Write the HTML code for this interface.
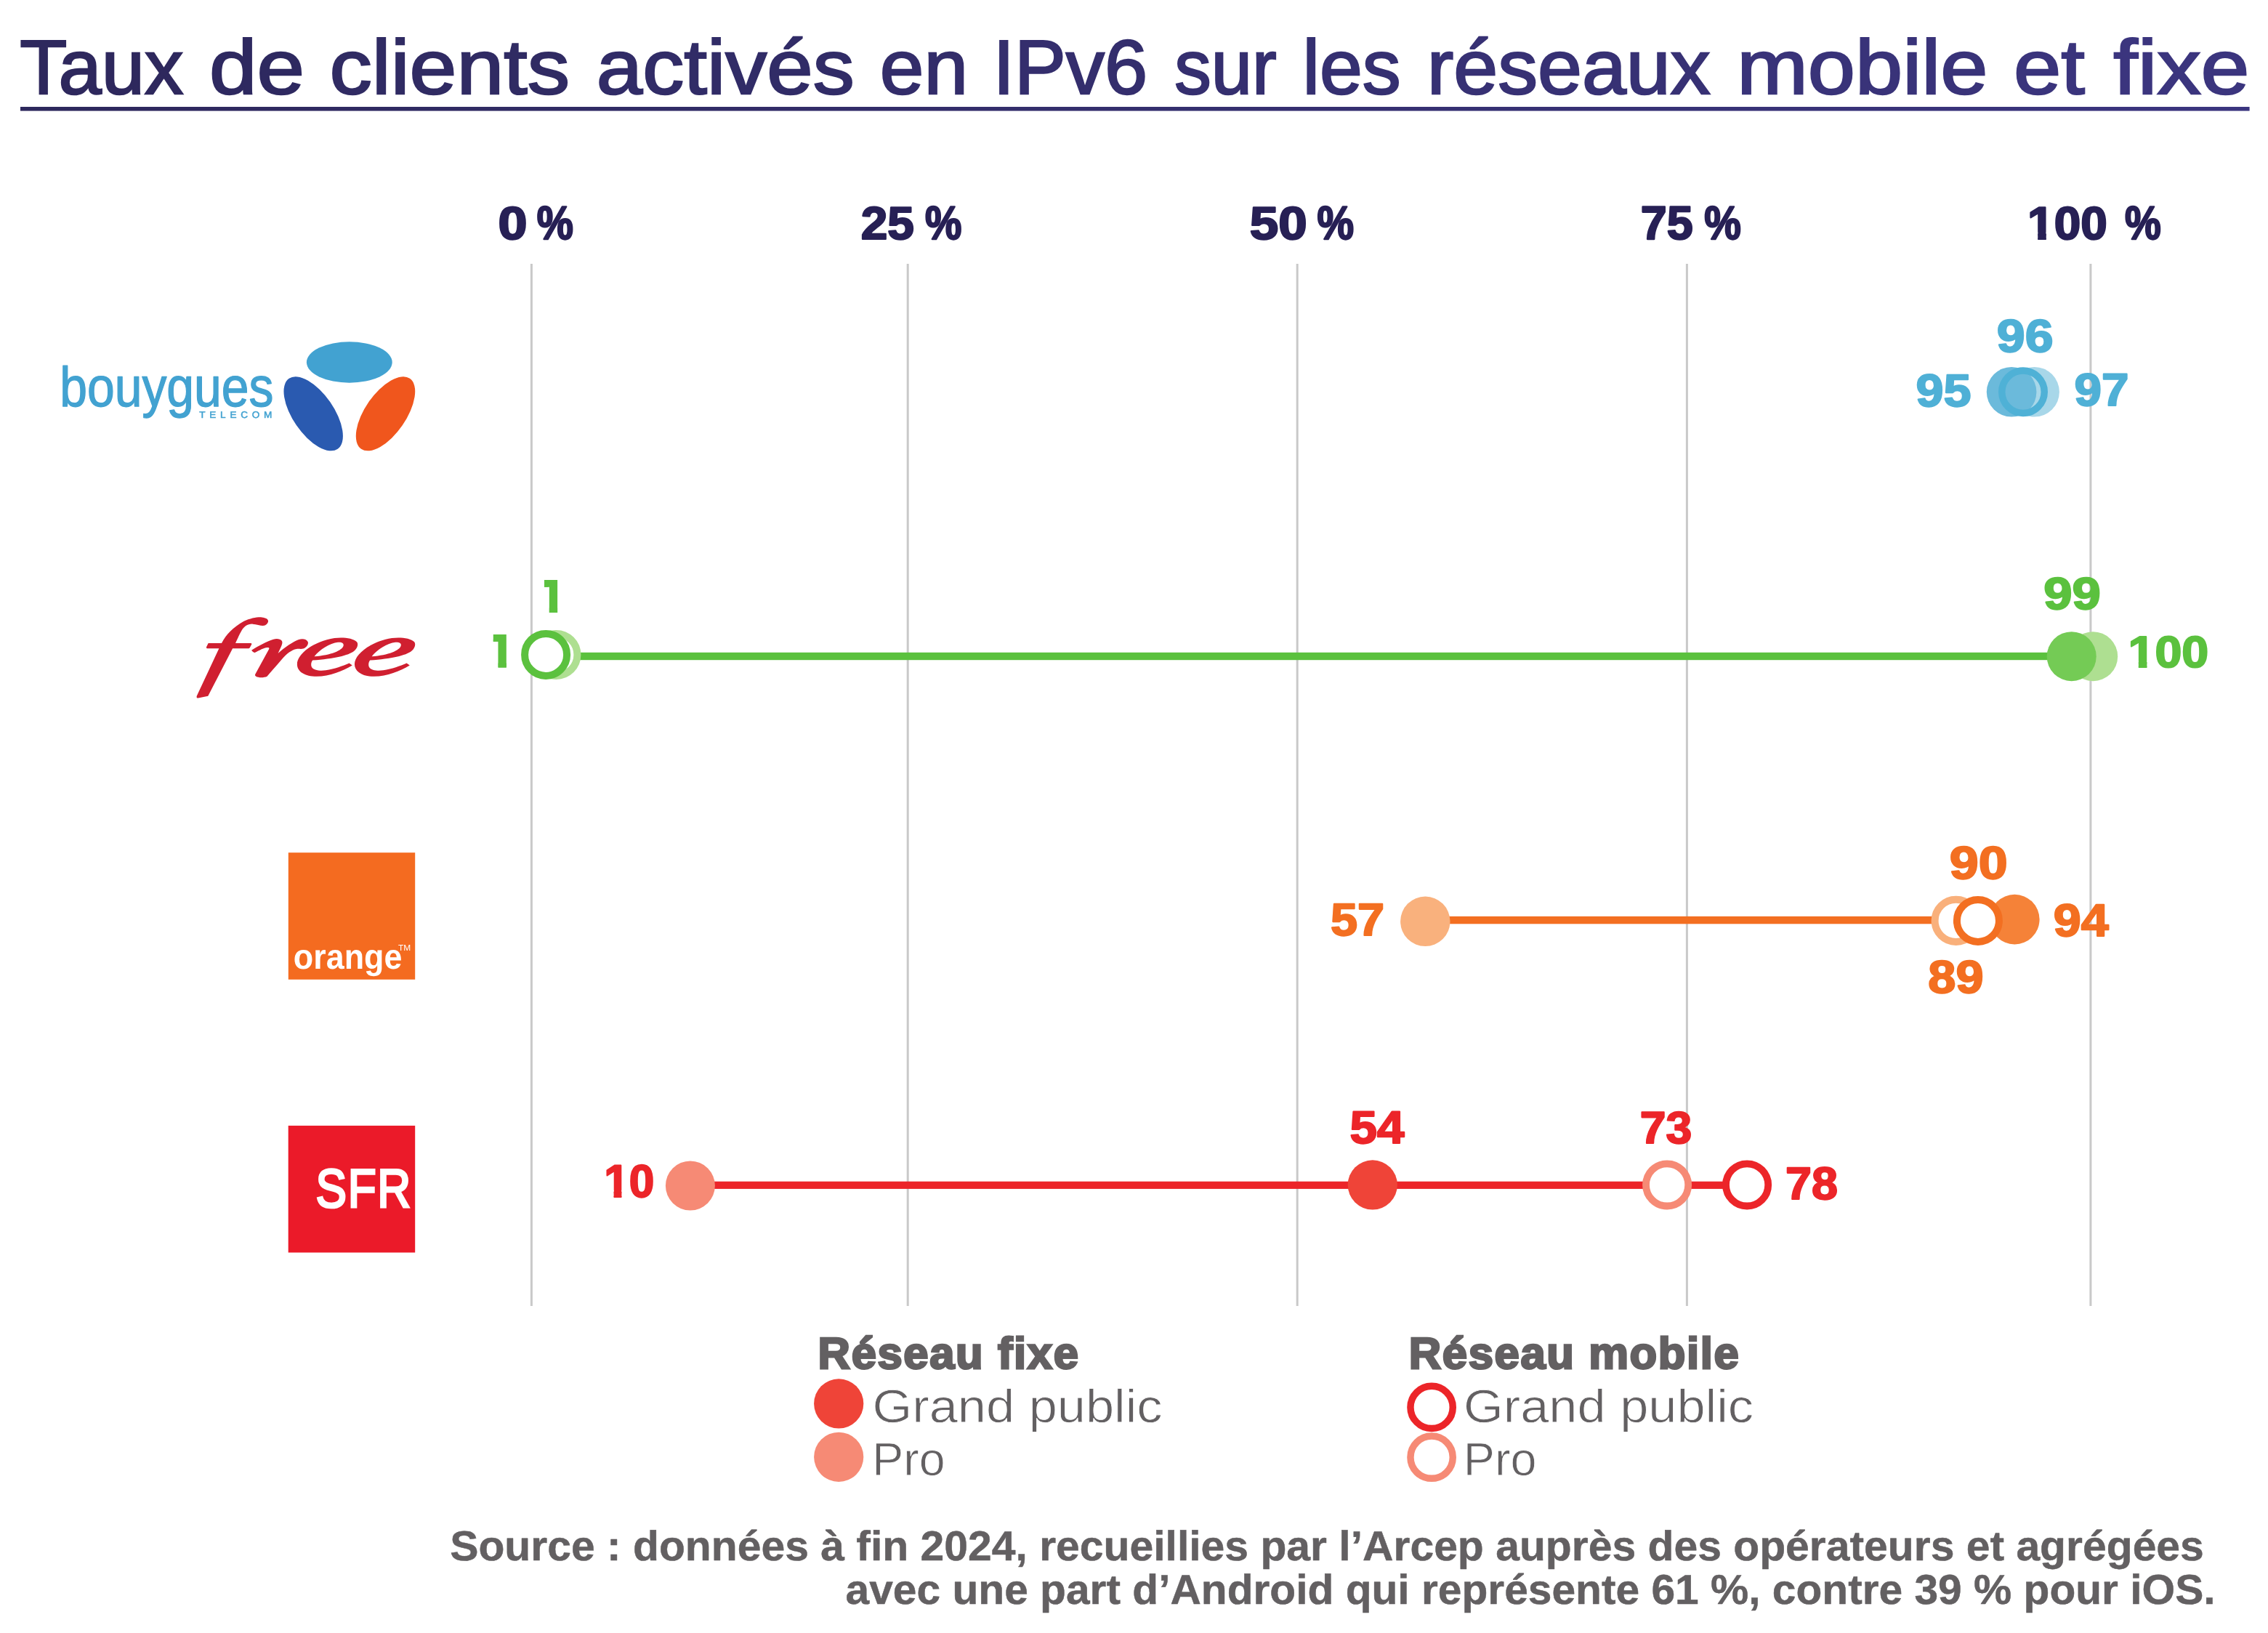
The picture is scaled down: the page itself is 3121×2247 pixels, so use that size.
<!DOCTYPE html>
<html lang="fr"><head><meta charset="utf-8"><title>Taux de clients activés en IPv6 sur les réseaux mobile et fixe</title>
<style>
html,body{margin:0;padding:0;background:#fff;}
body{width:3121px;height:2247px;overflow:hidden;font-family:"Liberation Sans",sans-serif;}
svg{display:block;}
text{font-family:"Liberation Sans",sans-serif;text-rendering:geometricPrecision;}
</style></head>
<body>
<svg width="3121" height="2247" viewBox="0 0 3121 2247">
<defs><clipPath id="one0"><path d="M749.0,798.0 H767.1 V843.1 H755.85 V807.70 H749.0 Z"/></clipPath><clipPath id="one1"><path d="M678.8,873.1 H696.8 V918.5 H685.55 V882.80 H678.8 Z"/></clipPath><clipPath id="nf0"><path d="M-20,-81.6 H272.0 V20 H38.73 V-9.94 H26.56 V20 H14.58 V-9.94 H-20 Z"/></clipPath><clipPath id="nf1"><path d="M-20,-78.4 H261.2 V20 H37.22 V-9.56 H25.46 V20 H14.05 V-9.56 H-20 Z"/></clipPath><clipPath id="nf2"><path d="M-20,-79.9 H266.4 V20 H37.99 V-9.69 H25.94 V20 H14.35 V-9.69 H-20 Z"/></clipPath><linearGradient id="tg" gradientUnits="userSpaceOnUse" x1="28" y1="0" x2="3095" y2="0"><stop offset="0" stop-color="#2d285c"/><stop offset="1" stop-color="#3b357f"/></linearGradient></defs>
<rect width="3121" height="2247" fill="#fff"/>
<g id="shapes">
<rect x="28" y="147" width="3067.6" height="5.6" fill="url(#tg)"/>
<rect x="729.9" y="363" width="3" height="1434" fill="#c9c9c9"/>
<rect x="1247.7" y="363" width="3" height="1434" fill="#c9c9c9"/>
<rect x="1783.7" y="363" width="3" height="1434" fill="#c9c9c9"/>
<rect x="2319.9" y="363" width="3" height="1434" fill="#c9c9c9"/>
<rect x="2875.4" y="363" width="3" height="1434" fill="#c9c9c9"/>
<circle cx="2799.6" cy="539.3" r="34.3" fill="#a8d7e9"/>
<circle cx="2768.1" cy="539.3" r="34.3" fill="#6bbadb"/>
<circle cx="2784" cy="539.3" r="29.25" fill="none" stroke="#4fb1d6" stroke-width="9.5"/>
<rect x="770" y="897.80" width="2080.0" height="10.4" fill="#5bc13e"/>
<circle cx="765.4" cy="900.9" r="29.00" fill="#fff" stroke="#aedf91" stroke-width="10"/>
<circle cx="751.1" cy="900.9" r="29.00" fill="#fff" stroke="#5bc13e" stroke-width="10"/>
<circle cx="2880.2" cy="903.2" r="34.0" fill="#aedf91"/>
<circle cx="2850.7" cy="903.2" r="34.0" fill="#74cb55"/>
<rect x="1961" y="1260.90" width="729.0" height="10.4" fill="#f36f21"/>
<circle cx="1961.3" cy="1267.8" r="34.2" fill="#f9b17d"/>
<circle cx="2772.3" cy="1265.1" r="34.3" fill="#f58238"/>
<circle cx="2691.7" cy="1266.9" r="29.10" fill="#fff" stroke="#f9b07b" stroke-width="10"/>
<circle cx="2721.9" cy="1266.9" r="29.00" fill="#fff" stroke="#f36f21" stroke-width="10"/>
<rect x="950" y="1625.70" width="1454.0" height="10.2" fill="#ec2529"/>
<circle cx="949.9" cy="1631.5" r="34.0" fill="#f68a75"/>
<circle cx="1888.8" cy="1630.4" r="34.1" fill="#ef4438"/>
<circle cx="2294.1" cy="1630.4" r="29.10" fill="#fff" stroke="#f68a75" stroke-width="9.8"/>
<circle cx="2404.1" cy="1630.4" r="29.10" fill="#fff" stroke="#ec2529" stroke-width="9.8"/>
<circle cx="1154.2" cy="1931.4" r="34.1" fill="#ef4438"/>
<circle cx="1154.2" cy="2004.8" r="34.1" fill="#f68a75"/>
<circle cx="1970.1" cy="1936.4" r="29.15" fill="#fff" stroke="#ec2529" stroke-width="9.5"/>
<circle cx="1970.1" cy="2005.2" r="29.15" fill="#fff" stroke="#f68a75" stroke-width="9.5"/>
</g>
<g id="logos">
<ellipse cx="480.8" cy="498.5" rx="58.9" ry="28.2" fill="#42a2d1"/>
<ellipse cx="431.2" cy="569.3" rx="58.9" ry="28.2" fill="#2a5ab0" transform="rotate(55.4 431.2 569.3)"/>
<ellipse cx="530.5" cy="569.3" rx="58.9" ry="28.2" fill="#f0561d" transform="rotate(-55.4 530.5 569.3)"/>
<g fill="#d01f30" fill-rule="evenodd"><g transform="translate(260 840) scale(0.079611)"><path d="M135,1478 L520,655 L312,655 Q296,650 302,632 L335,565 L565,565 C640,420 760,290 950,185 C1060,135 1180,112 1260,118 C1330,124 1372,150 1370,185 C1366,225 1330,262 1280,263 C1230,262 1170,238 1100,234 C1010,232 950,280 910,350 C880,400 840,490 805,565 L1070,565 Q1090,568 1084,585 L1052,645 Q1046,655 1035,655 L755,655 L330,1480 L160,1514 Q125,1515 135,1478 Z"/><path d="M1082,688 C1200,612 1340,535 1460,498 C1520,482 1580,490 1605,525 C1625,555 1605,600 1585,645 L1540,740 C1650,640 1800,540 1900,502 C1970,480 2040,500 2058,545 C2068,590 2030,640 1975,660 C1940,670 1900,660 1860,665 C1780,680 1690,740 1600,850 C1520,950 1430,1040 1350,1140 C1300,1165 1200,1165 1160,1140 C1140,1128 1140,1115 1148,1100 L1385,665 C1392,645 1380,638 1350,640 C1300,645 1220,685 1140,728 C1125,730 1095,710 1082,688 Z"/></g><g transform="translate(400 860) scale(0.079365)"><path d="M1068,700 C900,800 680,890 450,893 C250,893 112,810 112,680 C112,500 400,285 760,228 C880,210 1080,220 1150,295 C1175,330 1160,400 1100,450 C1000,530 750,585 380,612 C355,640 348,690 362,725 C390,790 520,800 610,785 C760,762 900,712 1015,662 Z M410,545 C500,430 680,315 820,300 C890,295 925,318 915,358 C895,440 700,522 410,545 Z"/><path transform="translate(996 0)" d="M1068,700 C900,800 680,890 450,893 C250,893 112,810 112,680 C112,500 400,285 760,228 C880,210 1080,220 1150,295 C1175,330 1160,400 1100,450 C1000,530 750,585 380,612 C355,640 348,690 362,725 C390,790 520,800 610,785 C760,762 900,712 1015,662 Z M410,545 C500,430 680,315 820,300 C890,295 925,318 915,358 C895,440 700,522 410,545 Z"/></g></g>
<rect x="396.8" y="1173.2" width="174.4" height="174.6" fill="#f46b20"/>
<rect x="396.7" y="1548.9" width="174.5" height="174.6" fill="#eb1a29"/>
</g>
<g id="texts" style="opacity:0.999">
<text transform="translate(27.20 129.00) scale(1.0049 1.0000)" xml:space="preserve" text-rendering="geometricPrecision" font-family="Liberation Sans, sans-serif" font-size="106" font-weight="400" fill="#2e285d" stroke="#2e285d" stroke-width="2.4" stroke-linejoin="miter" stroke-miterlimit="3">Taux</text>
<text transform="translate(288.06 129.00) scale(1.1117 1.0000)" xml:space="preserve" text-rendering="geometricPrecision" font-family="Liberation Sans, sans-serif" font-size="106" font-weight="400" fill="#2e2960" stroke="#2e2960" stroke-width="2.4" stroke-linejoin="miter" stroke-miterlimit="3">de</text>
<text transform="translate(453.50 129.00) scale(1.1000 1.0000)" xml:space="preserve" text-rendering="geometricPrecision" font-family="Liberation Sans, sans-serif" font-size="106" font-weight="400" fill="#302b63" stroke="#302b63" stroke-width="2.4" stroke-linejoin="miter" stroke-miterlimit="3">clients</text>
<text transform="translate(820.87 129.00) scale(1.0756 1.0000)" xml:space="preserve" text-rendering="geometricPrecision" font-family="Liberation Sans, sans-serif" font-size="106" font-weight="400" fill="#312c67" stroke="#312c67" stroke-width="2.4" stroke-linejoin="miter" stroke-miterlimit="3">activés</text>
<text transform="translate(1210.81 129.00) scale(1.0284 1.0000)" xml:space="preserve" text-rendering="geometricPrecision" font-family="Liberation Sans, sans-serif" font-size="106" font-weight="400" fill="#332d6a" stroke="#332d6a" stroke-width="2.4" stroke-linejoin="miter" stroke-miterlimit="3">en</text>
<text transform="translate(1366.38 129.00) scale(1.0025 1.0000)" xml:space="preserve" text-rendering="geometricPrecision" font-family="Liberation Sans, sans-serif" font-size="106" font-weight="400" fill="#342e6d" stroke="#342e6d" stroke-width="2.4" stroke-linejoin="miter" stroke-miterlimit="3">IPv6</text>
<text transform="translate(1616.29 129.00) scale(0.9538 1.0000)" xml:space="preserve" text-rendering="geometricPrecision" font-family="Liberation Sans, sans-serif" font-size="106" font-weight="400" fill="#352f6f" stroke="#352f6f" stroke-width="2.4" stroke-linejoin="miter" stroke-miterlimit="3">sur</text>
<text transform="translate(1792.41 129.00) scale(0.9976 1.0000)" xml:space="preserve" text-rendering="geometricPrecision" font-family="Liberation Sans, sans-serif" font-size="106" font-weight="400" fill="#353071" stroke="#353071" stroke-width="2.4" stroke-linejoin="miter" stroke-miterlimit="3">les</text>
<text transform="translate(1963.70 129.00) scale(1.0339 1.0000)" xml:space="preserve" text-rendering="geometricPrecision" font-family="Liberation Sans, sans-serif" font-size="106" font-weight="400" fill="#373174" stroke="#373174" stroke-width="2.4" stroke-linejoin="miter" stroke-miterlimit="3">réseaux</text>
<text transform="translate(2390.16 129.00) scale(1.1059 1.0000)" xml:space="preserve" text-rendering="geometricPrecision" font-family="Liberation Sans, sans-serif" font-size="106" font-weight="400" fill="#393379" stroke="#393379" stroke-width="2.4" stroke-linejoin="miter" stroke-miterlimit="3">mobile</text>
<text transform="translate(2770.98 129.00) scale(1.1070 1.0000)" xml:space="preserve" text-rendering="geometricPrecision" font-family="Liberation Sans, sans-serif" font-size="106" font-weight="400" fill="#3a347c" stroke="#3a347c" stroke-width="2.4" stroke-linejoin="miter" stroke-miterlimit="3">et</text>
<text transform="translate(2908.30 129.00) scale(1.1348 1.0000)" xml:space="preserve" text-rendering="geometricPrecision" font-family="Liberation Sans, sans-serif" font-size="106" font-weight="400" fill="#3b357e" stroke="#3b357e" stroke-width="2.4" stroke-linejoin="miter" stroke-miterlimit="3">fixe</text>
<text transform="translate(685.38 328.53) scale(1.0588 0.9333)" xml:space="preserve" text-rendering="geometricPrecision" font-family="Liberation Sans, sans-serif" font-size="68.0" font-weight="700" fill="#272055" stroke="#272055" stroke-width="2.4" stroke-linejoin="round" stroke-miterlimit="3">0</text>
<text transform="translate(738.87 328.50) scale(0.8305 0.9520)" xml:space="preserve" text-rendering="geometricPrecision" font-family="Liberation Sans, sans-serif" font-size="68.0" font-weight="700" fill="#272055" stroke="#272055" stroke-width="2.4" stroke-linejoin="round" stroke-miterlimit="3">%</text>
<text transform="translate(1184.63 328.53) scale(0.9676 0.9333)" xml:space="preserve" text-rendering="geometricPrecision" font-family="Liberation Sans, sans-serif" font-size="68.0" font-weight="700" fill="#272055" stroke="#272055" stroke-width="2.4" stroke-linejoin="round" stroke-miterlimit="3">25</text>
<text transform="translate(1272.97 328.50) scale(0.8339 0.9520)" xml:space="preserve" text-rendering="geometricPrecision" font-family="Liberation Sans, sans-serif" font-size="68.0" font-weight="700" fill="#272055" stroke="#272055" stroke-width="2.4" stroke-linejoin="round" stroke-miterlimit="3">%</text>
<text transform="translate(1719.66 328.53) scale(1.0438 0.9333)" xml:space="preserve" text-rendering="geometricPrecision" font-family="Liberation Sans, sans-serif" font-size="68.0" font-weight="700" fill="#272055" stroke="#272055" stroke-width="2.4" stroke-linejoin="round" stroke-miterlimit="3">50</text>
<text transform="translate(1812.56 328.50) scale(0.8373 0.9520)" xml:space="preserve" text-rendering="geometricPrecision" font-family="Liberation Sans, sans-serif" font-size="68.0" font-weight="700" fill="#272055" stroke="#272055" stroke-width="2.4" stroke-linejoin="round" stroke-miterlimit="3">%</text>
<text transform="translate(2257.70 328.50) scale(0.9507 0.9520)" xml:space="preserve" text-rendering="geometricPrecision" font-family="Liberation Sans, sans-serif" font-size="68.0" font-weight="700" fill="#272055" stroke="#272055" stroke-width="2.4" stroke-linejoin="round" stroke-miterlimit="3">75</text>
<text transform="translate(2345.16 328.50) scale(0.8373 0.9520)" xml:space="preserve" text-rendering="geometricPrecision" font-family="Liberation Sans, sans-serif" font-size="68.0" font-weight="700" fill="#272055" stroke="#272055" stroke-width="2.4" stroke-linejoin="round" stroke-miterlimit="3">%</text>
<text transform="translate(2790.10 328.53) scale(0.9670 0.9333)" xml:space="preserve" text-rendering="geometricPrecision" font-family="Liberation Sans, sans-serif" font-size="68.0" font-weight="700" fill="#272055" stroke="#272055" stroke-width="2.4" stroke-linejoin="round" stroke-miterlimit="3" clip-path="url(#nf0)">100</text>
<text transform="translate(2924.08 328.50) scale(0.8237 0.9520)" xml:space="preserve" text-rendering="geometricPrecision" font-family="Liberation Sans, sans-serif" font-size="68.0" font-weight="700" fill="#272055" stroke="#272055" stroke-width="2.4" stroke-linejoin="round" stroke-miterlimit="3">%</text>
<text transform="translate(2747.85 483.90) scale(1.0500 0.9510)" xml:space="preserve" text-rendering="geometricPrecision" font-family="Liberation Sans, sans-serif" font-size="66.6" font-weight="700" fill="#4fb0d6" stroke="#4fb0d6" stroke-width="2.2" stroke-linejoin="round" stroke-miterlimit="3">96</text>
<text transform="translate(2636.58 558.72) scale(1.0205 0.9380)" xml:space="preserve" text-rendering="geometricPrecision" font-family="Liberation Sans, sans-serif" font-size="67.0" font-weight="700" fill="#4fb0d6" stroke="#4fb0d6" stroke-width="2.2" stroke-linejoin="round" stroke-miterlimit="3">95</text>
<text transform="translate(2854.38 558.30) scale(1.0155 0.9490)" xml:space="preserve" text-rendering="geometricPrecision" font-family="Liberation Sans, sans-serif" font-size="66.4" font-weight="700" fill="#4fb0d6" stroke="#4fb0d6" stroke-width="2.2" stroke-linejoin="round" stroke-miterlimit="3">97</text>
<text transform="translate(2812.23 838.42) scale(1.0732 0.9408)" xml:space="preserve" text-rendering="geometricPrecision" font-family="Liberation Sans, sans-serif" font-size="65.9" font-weight="700" fill="#5bc13e" stroke="#5bc13e" stroke-width="2.2" stroke-linejoin="round" stroke-miterlimit="3">99</text>
<text transform="translate(2928.55 918.33) scale(1.0163 0.9327)" xml:space="preserve" text-rendering="geometricPrecision" font-family="Liberation Sans, sans-serif" font-size="65.3" font-weight="700" fill="#5bc13e" stroke="#5bc13e" stroke-width="2.2" stroke-linejoin="round" stroke-miterlimit="3" clip-path="url(#nf1)">100</text>
<text transform="translate(2682.72 1209.30) scale(1.0789 0.9510)" xml:space="preserve" text-rendering="geometricPrecision" font-family="Liberation Sans, sans-serif" font-size="66.6" font-weight="700" fill="#f36f21" stroke="#f36f21" stroke-width="2.2" stroke-linejoin="round" stroke-miterlimit="3">90</text>
<text transform="translate(2825.77 1287.91) scale(1.0301 0.9469)" xml:space="preserve" text-rendering="geometricPrecision" font-family="Liberation Sans, sans-serif" font-size="66.3" font-weight="700" fill="#f36f21" stroke="#f36f21" stroke-width="2.2" stroke-linejoin="round" stroke-miterlimit="3">94</text>
<text transform="translate(2653.27 1366.10) scale(1.0292 0.9510)" xml:space="preserve" text-rendering="geometricPrecision" font-family="Liberation Sans, sans-serif" font-size="66.6" font-weight="700" fill="#f36f21" stroke="#f36f21" stroke-width="2.2" stroke-linejoin="round" stroke-miterlimit="3">89</text>
<text transform="translate(1830.99 1286.71) scale(1.0056 0.9469)" xml:space="preserve" text-rendering="geometricPrecision" font-family="Liberation Sans, sans-serif" font-size="66.3" font-weight="700" fill="#f36f21" stroke="#f36f21" stroke-width="2.2" stroke-linejoin="round" stroke-miterlimit="3">57</text>
<text transform="translate(831.20 1646.90) scale(0.9333 0.9510)" xml:space="preserve" text-rendering="geometricPrecision" font-family="Liberation Sans, sans-serif" font-size="66.6" font-weight="700" fill="#ec2529" stroke="#ec2529" stroke-width="2.2" stroke-linejoin="round" stroke-miterlimit="3" clip-path="url(#nf2)">10</text>
<text transform="translate(1857.58 1573.28) scale(1.0233 0.9604)" xml:space="preserve" text-rendering="geometricPrecision" font-family="Liberation Sans, sans-serif" font-size="65.9" font-weight="700" fill="#ec2529" stroke="#ec2529" stroke-width="2.2" stroke-linejoin="round" stroke-miterlimit="3">54</text>
<text transform="translate(2256.85 1573.32) scale(0.9757 0.9408)" xml:space="preserve" text-rendering="geometricPrecision" font-family="Liberation Sans, sans-serif" font-size="65.9" font-weight="700" fill="#ec2529" stroke="#ec2529" stroke-width="2.2" stroke-linejoin="round" stroke-miterlimit="3">73</text>
<text transform="translate(2457.05 1650.21) scale(0.9761 0.9469)" xml:space="preserve" text-rendering="geometricPrecision" font-family="Liberation Sans, sans-serif" font-size="66.3" font-weight="700" fill="#ec2529" stroke="#ec2529" stroke-width="2.2" stroke-linejoin="round" stroke-miterlimit="3">78</text>
<text transform="translate(1125.57 1883.00) scale(1.0091 1.0000)" xml:space="preserve" text-rendering="geometricPrecision" font-family="Liberation Sans, sans-serif" font-size="61" font-weight="700" fill="#636062" letter-spacing="1.6" stroke="#636062" stroke-width="2.8" stroke-linejoin="miter" stroke-miterlimit="3">Réseau fixe</text>
<text transform="translate(1938.77 1883.00) scale(1.0094 1.0000)" xml:space="preserve" text-rendering="geometricPrecision" font-family="Liberation Sans, sans-serif" font-size="61" font-weight="700" fill="#636062" letter-spacing="1.6" stroke="#636062" stroke-width="2.8" stroke-linejoin="miter" stroke-miterlimit="3">Réseau mobile</text>
<text transform="translate(1200.60 1957.00) scale(1.0992 1.0000)" xml:space="preserve" text-rendering="geometricPrecision" font-family="Liberation Sans, sans-serif" font-size="64" font-weight="400" fill="#636062" stroke="#fff" stroke-width="0.8">Grand public</text>
<text transform="translate(1200.25 2029.50) scale(1.0078 1.0000)" xml:space="preserve" text-rendering="geometricPrecision" font-family="Liberation Sans, sans-serif" font-size="64" font-weight="400" fill="#636062" stroke="#fff" stroke-width="0.8">Pro</text>
<text transform="translate(2014.10 1957.00) scale(1.0992 1.0000)" xml:space="preserve" text-rendering="geometricPrecision" font-family="Liberation Sans, sans-serif" font-size="64" font-weight="400" fill="#636062" stroke="#fff" stroke-width="0.8">Grand public</text>
<text transform="translate(2013.73 2029.50) scale(1.0111 1.0000)" xml:space="preserve" text-rendering="geometricPrecision" font-family="Liberation Sans, sans-serif" font-size="64" font-weight="400" fill="#636062" stroke="#fff" stroke-width="0.8">Pro</text>
<text transform="translate(619.15 2147.35) scale(1.0234 1.0000)" xml:space="preserve" text-rendering="geometricPrecision" font-family="Liberation Sans, sans-serif" font-size="57.5" font-weight="700" fill="#636062" stroke="#636062" stroke-width="0.5" stroke-linejoin="round" stroke-miterlimit="3">Source : données à fin 2024, recueillies par l’Arcep auprès des opérateurs et agrégées</text>
<text transform="translate(1163.58 2206.95) scale(1.0207 1.0000)" xml:space="preserve" text-rendering="geometricPrecision" font-family="Liberation Sans, sans-serif" font-size="57.5" font-weight="700" fill="#636062" stroke="#636062" stroke-width="0.5" stroke-linejoin="round" stroke-miterlimit="3">avec une part d’Android qui représente 61 %, contre 39 % pour iOS.</text>
<text transform="translate(82.17 558.55) scale(0.8814 1.0000)" xml:space="preserve" text-rendering="geometricPrecision" font-family="Liberation Sans, sans-serif" font-size="77" font-weight="400" fill="#42a2d1" stroke="#42a2d1" stroke-width="1.3" stroke-linejoin="round" stroke-miterlimit="3">bouygues</text>
<text transform="translate(274.30 575.45) scale(1.0613 1.0000)" xml:space="preserve" text-rendering="geometricPrecision" font-family="Liberation Sans, sans-serif" font-size="12.8" font-weight="400" fill="#42a2d1" letter-spacing="5.4" stroke="#42a2d1" stroke-width="0.5" stroke-linejoin="round" stroke-miterlimit="3">TELECOM</text>
<text transform="translate(403.85 1333.20) scale(0.9266 1.0000)" xml:space="preserve" text-rendering="geometricPrecision" font-family="Liberation Sans, sans-serif" font-size="48.4" font-weight="700" fill="#fff">orange</text>
<text transform="translate(548.00 1307.60) scale(1.0375 1.0000)" xml:space="preserve" text-rendering="geometricPrecision" font-family="Liberation Sans, sans-serif" font-size="11.5" font-weight="400" fill="#fff">TM</text>
<text transform="translate(434.50 1661.00) scale(0.8513 1.0000)" xml:space="preserve" text-rendering="geometricPrecision" font-family="Liberation Sans, sans-serif" font-size="74.8" font-weight="400" fill="#fff" letter-spacing="2" stroke="#fff" stroke-width="3.2" stroke-linejoin="miter" stroke-miterlimit="3">SFR</text>
<text x="741.0" y="843.1" clip-path="url(#one0)" font-family="Liberation Sans, sans-serif" font-size="64" font-weight="700" fill="#5bc13e" stroke="#5bc13e" stroke-width="40">1</text>
<text x="670.8" y="918.5" clip-path="url(#one1)" font-family="Liberation Sans, sans-serif" font-size="64" font-weight="700" fill="#5bc13e" stroke="#5bc13e" stroke-width="40">1</text>
</g>
</svg>
</body></html>
